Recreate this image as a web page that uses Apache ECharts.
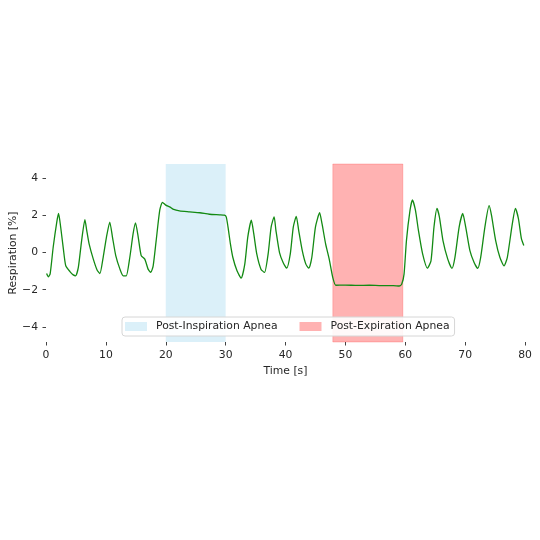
<!DOCTYPE html>
<html>
<head>
<meta charset="utf-8">
<script src="https://cdn.jsdelivr.net/npm/echarts@6/dist/echarts.min.js"></script>
<style>
  html, body { margin: 0; padding: 0; background: #fff; }
  #chart { width: 540px; height: 540px; }
</style>
</head>
<body>
<div id="chart"></div>
<script>
// time in seconds, respiration in %
const timeS = [
  0.1, 0.4, 0.7, 1.2, 1.8, 2.1, 2.45, 2.9, 3.3, 4.0, 4.55, 4.95,
  5.4, 5.95, 6.5, 6.8, 7.2, 7.9, 8.55, 9.0,
  9.55, 10.1, 10.65, 11.1, 11.65, 12.35, 12.9, 13.4,
  14.0, 14.55, 14.95, 15.4, 15.9, 16.5, 17.05, 17.5,
  17.9, 18.4, 19.0, 19.45, 20.0, 20.65, 21.2, 22.3, 24.0, 25.7, 27.3, 29.0, 29.8,
  30.1, 30.4, 30.8, 31.2, 31.9, 32.6,
  33.2, 33.7, 34.3, 34.7, 35.2, 35.9, 36.5,
  37.1, 37.6, 38.1, 38.4, 39.0, 39.6, 40.2,
  40.8, 41.3, 41.8, 42.2, 42.8, 43.4, 43.9,
  44.4, 45.0, 45.7, 46.1, 46.7, 47.3, 47.9, 48.4,
  50, 52, 54, 56, 58, 59.0, 59.4,
  59.8, 60.2, 60.8, 61.2, 61.7, 62.2, 62.9, 63.7,
  64.3, 64.8, 65.3, 65.7, 66.3, 67.1, 67.8,
  68.3, 69.0, 69.6, 70.1, 70.8, 71.5, 72.1,
  72.6, 73.3, 74.0, 74.4, 75.1, 75.8, 76.5,
  77.05, 77.8, 78.4, 78.9, 79.4, 79.8
];
const respiration = [
  -1.13, -1.31, -1.13, 0.29, 1.65, 2.11, 1.38, 0.2, -0.71, -1.02, -1.2, -1.25,
  -0.8, 0.65, 1.78, 1.2, 0.47, -0.35, -0.95, -1.13,
  -0.25, 0.84, 1.65, 0.84, -0.16, -0.89, -1.25, -1.25,
  -0.25, 1.02, 1.6, 0.84, -0.16, -0.35, -0.89, -1.07,
  -0.71, 0.65, 2.29, 2.71, 2.56, 2.47, 2.35, 2.25, 2.2, 2.15, 2.07, 2.04, 2.02,
  1.93, 1.38, 0.47, -0.25, -0.98, -1.38,
  -0.62, 0.84, 1.75, 1.02, -0.07, -0.89, -1.07,
  -0.07, 1.38, 1.93, 1.2, 0, -0.53, -0.84,
  -0.07, 1.38, 1.96, 1.2, 0.11, -0.62, -0.84,
  -0.25, 1.38, 2.15, 1.56, 0.47, -0.35, -1.35, -1.76,
  -1.75, -1.77, -1.76, -1.78, -1.78, -1.8, -1.71,
  -1.16, 0.65, 2.29, 2.84, 2.29, 1.2, -0.07, -0.84,
  -0.44, 1.38, 2.38, 1.93, 0.65, -0.35, -0.85,
  -0.25, 1.38, 2.11, 1.38, 0.11, -0.53, -0.85,
  -0.25, 1.38, 2.53, 2.02, 0.65, -0.25, -0.71,
  -0.25, 1.38, 2.38, 1.84, 0.75, 0.38
];
const inspApnea = [20, 30];
const expApnea = [47.9, 59.6];
const xTicks = [0, 10, 20, 30, 40, 50, 60, 70, 80];
const yTicks = [-4, -2, 0, 2, 4];

const font = "DejaVu Sans";
const textColor = "#262626";

const chart = echarts.init(document.getElementById("chart"));
chart.setOption({
  animation: false,
  grid: { left: 46, right: 15, top: 164, bottom: 198, outerBoundsMode: "none", containLabel: false },
  xAxis: {
    type: "value",
    min: 0,
    max: 80,
    name: "Time [s]",
    nameLocation: "middle",
    nameGap: 24,
    nameMoveOverlap: false,
    nameTextStyle: { color: textColor, fontFamily: font, fontSize: 10.8 },
    axisLine: { show: false, onZero: false },
    splitLine: { show: false },
    axisTick: { show: true, length: 3.5, customValues: xTicks, lineStyle: { color: "#444" } },
    axisLabel: { customValues: xTicks, margin: 8, color: textColor, fontFamily: font, fontSize: 10.8 }
  },
  yAxis: {
    type: "value",
    min: -4.82,
    max: 4.78,
    name: "Respiration [%]",
    nameLocation: "middle",
    nameGap: 27,
    nameMoveOverlap: false,
    nameTextStyle: { color: textColor, fontFamily: font, fontSize: 10.8 },
    axisLine: { show: false, onZero: false },
    splitLine: { show: false },
    axisTick: { show: true, length: 3.5, customValues: yTicks, lineStyle: { color: "#444" } },
    axisLabel: {
      customValues: yTicks,
      margin: 8,
      color: textColor,
      fontFamily: font,
      fontSize: 10.8,
      formatter: v => (v < 0 ? "\u2212" + Math.abs(v) : String(v))
    }
  },
  legend: {
    left: 122,
    top: 317,
    width: 340,
    padding: [4, 5, 4, 3],
    itemGap: 22,
    itemWidth: 22,
    itemHeight: 9,
    icon: "rect",
    backgroundColor: "rgba(255,255,255,0.9)",
    borderColor: "#d6d6d6",
    borderWidth: 1,
    borderRadius: 3,
    textStyle: { color: textColor, fontFamily: font, fontSize: 10.8, padding: [0, 0, 0, 4] },
    data: ["Post-Inspiration Apnea", "Post-Expiration Apnea"]
  },
  series: [
    {
      name: "Post-Inspiration Apnea",
      type: "line",
      data: [],
      color: "rgba(135,206,235,0.3)",
      z: 1,
      markArea: {
        silent: true,
        itemStyle: { color: "rgba(135,206,235,0.3)" },
        data: [[{ xAxis: inspApnea[0] }, { xAxis: inspApnea[1] }]]
      }
    },
    {
      name: "Post-Expiration Apnea",
      type: "line",
      data: [],
      color: "rgba(255,0,0,0.3)",
      z: 1,
      markArea: {
        silent: true,
        itemStyle: { color: "rgba(255,0,0,0.3)", borderColor: "rgba(255,0,0,0.2)", borderWidth: 1 },
        data: [[{ xAxis: expApnea[0] }, { xAxis: expApnea[1] }]]
      }
    },
    {
      name: "Respiration",
      type: "line",
      z: 3,
      smooth: 0.2,
      showSymbol: false,
      lineStyle: { color: "#138a13", width: 1.3 },
      data: timeS.map((t, i) => [t, respiration[i]])
    }
  ]
});
</script>
</body>
</html>
